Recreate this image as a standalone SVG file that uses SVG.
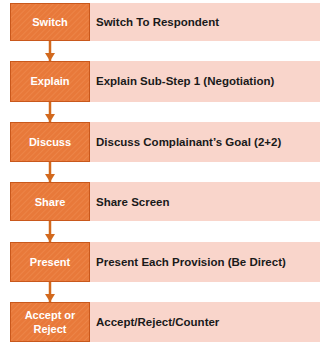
<svg xmlns="http://www.w3.org/2000/svg" width="320" height="344" viewBox="0 0 320 344">
<style>
.panel{fill:#f9d5cb}
.box{fill:url(#hatch);stroke:#c9581c;stroke-width:1}
.lbl{font-family:"Liberation Sans",Arial,sans-serif;font-weight:bold;font-size:11px;fill:#ffffff;text-anchor:middle}
.txt{font-family:"Liberation Sans",Arial,sans-serif;font-weight:bold;font-size:11.5px;fill:#1a1a1a}
.conn{stroke:#d2691e;stroke-width:2.5;fill:none}
</style>
<defs>
<pattern id="hatch" width="4" height="4" patternUnits="userSpaceOnUse" patternTransform="rotate(45)">
<rect width="4" height="4" fill="#e8793a"/>
<line x1="0" y1="0" x2="0" y2="4" stroke="#f08c50" stroke-width="1.2"/>
</pattern>
<marker id="arr" viewBox="0 0 8 10" refX="8" refY="5" markerWidth="8" markerHeight="10" orient="auto" markerUnits="userSpaceOnUse">
<path d="M0,0 L8,5 L0,10 z" fill="#d2691e"/>
</marker>
</defs>
<rect x="0" y="0" width="320" height="344" fill="#ffffff"/>
<g id="connectors">
<line class="conn" x1="50" y1="40" x2="50" y2="61" marker-end="url(#arr)"/>
<line class="conn" x1="50" y1="102" x2="50" y2="122" marker-end="url(#arr)"/>
<line class="conn" x1="50" y1="162" x2="50" y2="182" marker-end="url(#arr)"/>
<line class="conn" x1="50" y1="221" x2="50" y2="242" marker-end="url(#arr)"/>
<line class="conn" x1="50" y1="282" x2="50" y2="302" marker-end="url(#arr)"/>
</g>
<g id="switch">
<rect class="panel" x="90" y="3" width="230" height="38"/>
<rect class="box" x="10.5" y="3.5" width="79" height="37"/>
<text class="lbl" x="50" y="25.5">Switch</text>
<text class="txt" x="96" y="25.5">Switch To Respondent</text>
</g>
<g id="explain">
<rect class="panel" x="90" y="61" width="230" height="41"/>
<rect class="box" x="10.5" y="61.5" width="79" height="40"/>
<text class="lbl" x="50" y="85">Explain</text>
<text class="txt" x="96" y="85">Explain Sub-Step 1 (Negotiation)</text>
</g>
<g id="discuss">
<rect class="panel" x="90" y="122" width="230" height="40"/>
<rect class="box" x="10.5" y="122.5" width="79" height="39"/>
<text class="lbl" x="50" y="146">Discuss</text>
<text class="txt" x="96" y="146">Discuss Complainant’s Goal (2+2)</text>
</g>
<g id="share">
<rect class="panel" x="90" y="182" width="230" height="39"/>
<rect class="box" x="10.5" y="182.5" width="79" height="38"/>
<text class="lbl" x="50" y="205.5">Share</text>
<text class="txt" x="96" y="205.5">Share Screen</text>
</g>
<g id="present">
<rect class="panel" x="90" y="242" width="230" height="40"/>
<rect class="box" x="10.5" y="242.5" width="79" height="39"/>
<text class="lbl" x="50" y="266">Present</text>
<text class="txt" x="96" y="266">Present Each Provision (Be Direct)</text>
</g>
<g id="accept">
<rect class="panel" x="90" y="302" width="230" height="40"/>
<rect class="box" x="10.5" y="302.5" width="79" height="39"/>
<text class="lbl" x="50" y="319">Accept or</text>
<text class="lbl" x="50" y="333">Reject</text>
<text class="txt" x="96" y="326">Accept/Reject/Counter</text>
</g>
</svg>
